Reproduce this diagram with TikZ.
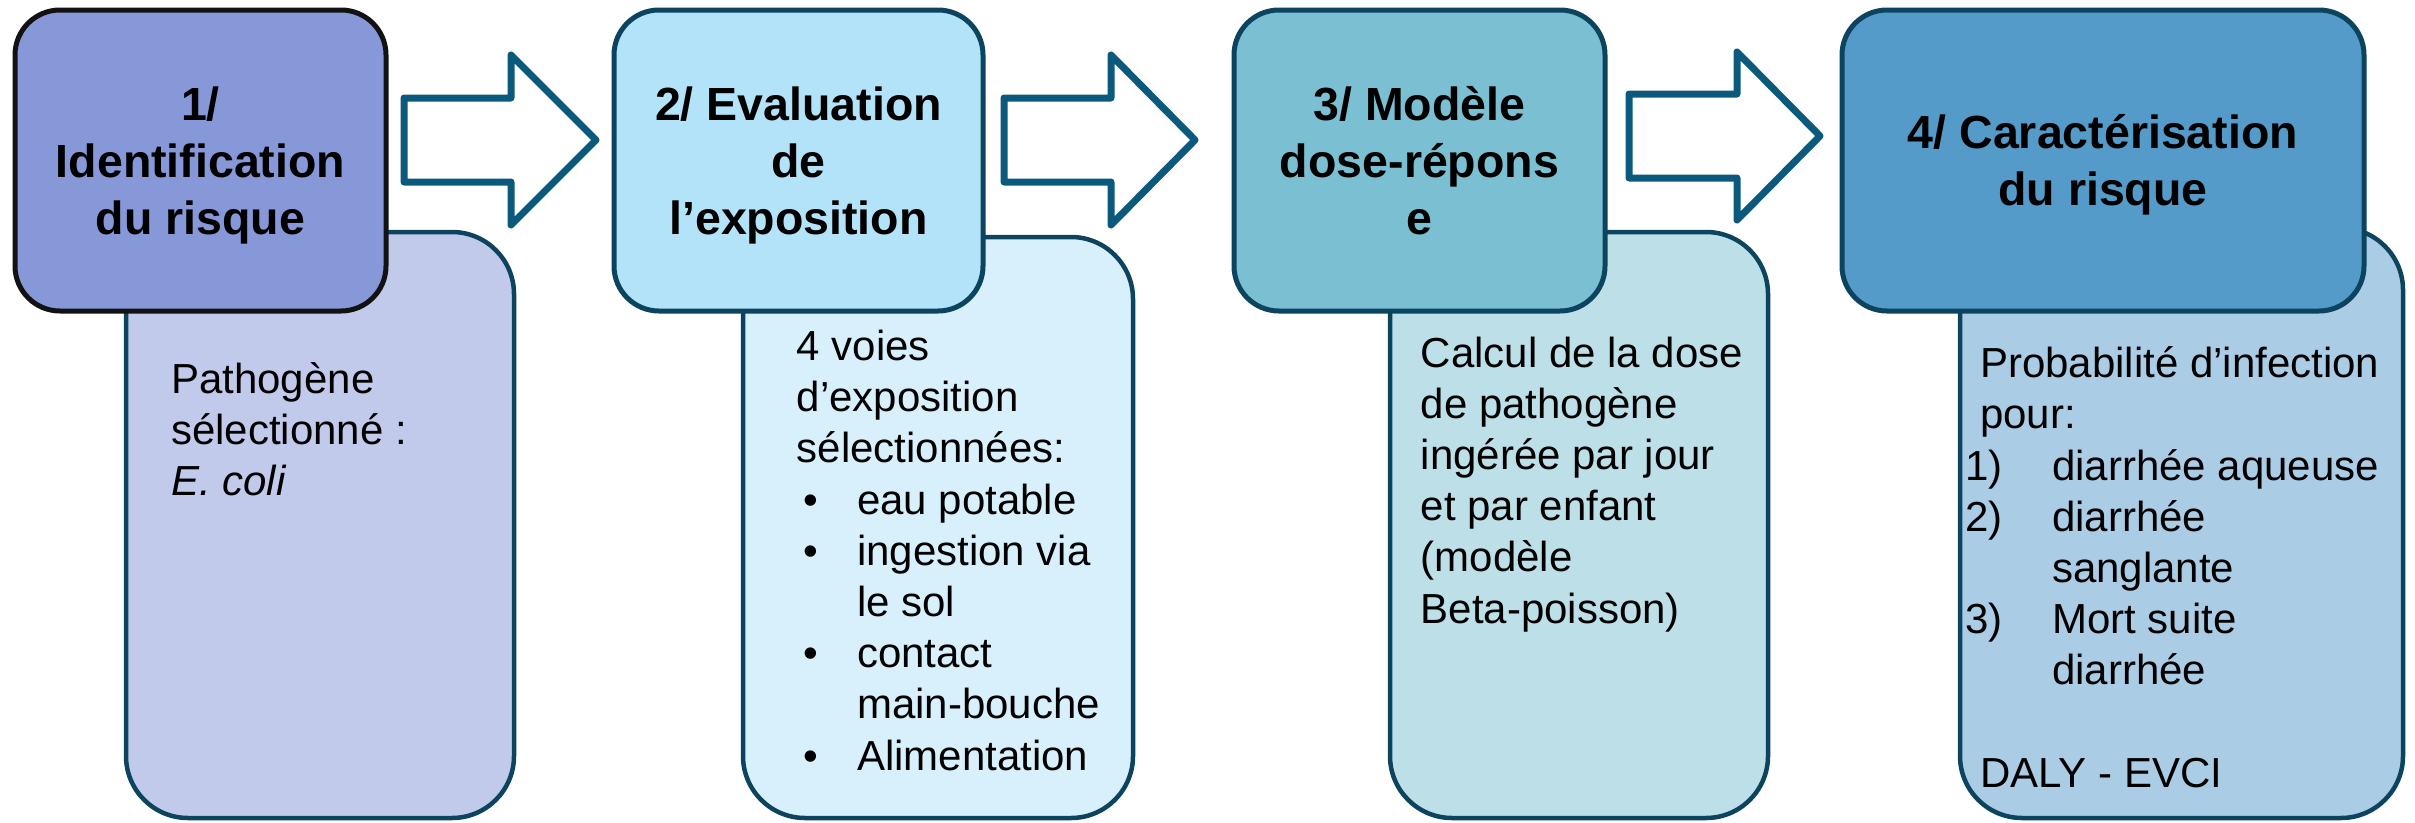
\documentclass[tikz,border=0pt]{standalone}
\usepackage{fontspec}
\setmainfont{Liberation Sans}
\definecolor{bordc}{HTML}{0C4460}
\definecolor{arrc}{HTML}{0B5A7D}
\definecolor{hAfill}{HTML}{8798D8}
\definecolor{sAfill}{HTML}{C2CAEC}
\definecolor{hBfill}{HTML}{B3E3F8}
\definecolor{sBfill}{HTML}{D8F0FC}
\definecolor{hCfill}{HTML}{7ABFD2}
\definecolor{sCfill}{HTML}{BCDFE8}
\definecolor{hDfill}{HTML}{559BC9}
\definecolor{sDfill}{HTML}{AACCE5}
\begin{document}
\begin{tikzpicture}[x=1pt,y=-1pt,
  hdr/.style={draw=bordc, line width=5pt, rounded corners=45pt, rectangle, inner sep=0pt, minimum height=301pt},
  subbox/.style={draw=bordc, line width=4.5pt, rounded corners=62pt, rectangle, inner sep=0pt},
  htxt/.style={anchor=base, inner sep=0pt, font=\fontsize{46.5}{57}\selectfont\bfseries},
  btxt/.style={anchor=base west, inner sep=0pt, font=\fontsize{42}{51.2}\selectfont},
  blockarrow/.style={draw=arrc, fill=white, line width=7pt, line join=round}]
\useasboundingbox (0,0) rectangle (2415,822);

% sub boxes (behind headers)
\node[subbox, fill=sAfill, minimum width=388pt, minimum height=586pt] (s1) at (320,525) {};
\node[subbox, fill=sBfill, minimum width=390pt, minimum height=581pt] (s2) at (938,527.5) {};
\node[subbox, fill=sCfill, minimum width=378pt, minimum height=586pt] (s3) at (1579,525) {};
\node[subbox, fill=sDfill, minimum width=443pt, minimum height=590pt] (s4) at (2181.5,523) {};

% header boxes
\node[hdr, draw=black!93, fill=hAfill, minimum width=371pt] (h1) at (200.5,160.5) {};
\node[hdr, fill=hBfill, minimum width=369pt] (h2) at (798.5,160.5) {};
\node[hdr, fill=hCfill, minimum width=371pt] (h3) at (1419.5,160.5) {};
\node[hdr, fill=hDfill, minimum width=522pt] (h4) at (2103,160.5) {};

% block arrows
\draw[blockarrow] (404,98) -- (511,98) -- (511,55) -- (596,140) -- (511,225) -- (511,182) -- (404,182) -- cycle;
\draw[blockarrow] (1004,98) -- (1111,98) -- (1111,55) -- (1195,140) -- (1111,225) -- (1111,182) -- (1004,182) -- cycle;
\draw[blockarrow] (1629,94) -- (1737,94) -- (1737,52) -- (1820,136) -- (1737,220) -- (1737,178) -- (1629,178) -- cycle;

% header texts
\node[htxt] (t1) at (200.5,120.7) {\parbox[t]{360pt}{\centering 1/\\Identification\\du risque}};
\node[htxt] (t2) at (798.5,120.7) {\parbox[t]{360pt}{\centering 2/ Evaluation\\de\\l’exposition}};
\node[htxt] (t3) at (1419.5,120.7) {\parbox[t]{360pt}{\centering 3/ Modèle\\dose-répons\\e}};
\node[htxt] (t4) at (2103,148) {\parbox[t]{500pt}{\centering 4/ Caractérisation\\du risque}};

% body texts
\node[btxt] (b1) at (171,393) {\parbox[t]{330pt}{\raggedright Pathogène\\sélectionné :\\\textit{E. coli}}};
\node[btxt] (b2) at (796.5,360.5) {\parbox[t]{340pt}{\raggedright
4 voies\\
d’exposition\\
sélectionnées:\\
\makebox[60.5pt][l]{\hspace*{6.5pt}•}eau potable\\
\makebox[60.5pt][l]{\hspace*{6.5pt}•}ingestion via\\
\makebox[60.5pt][l]{}le sol\\
\makebox[60.5pt][l]{\hspace*{6.5pt}•}contact\\
\makebox[60.5pt][l]{}main-bouche\\
\makebox[60.5pt][l]{\hspace*{6.5pt}•}Alimentation}};
\node[btxt] (b3) at (1420.6,367) {\parbox[t]{340pt}{\raggedright Calcul de la dose\\de pathogène\\ingérée par jour\\et par enfant\\(modèle\\Beta-poisson)}};
\node[btxt] (b4) at (1965,377.6) {\parbox[t]{440pt}{\raggedright
\hspace*{15pt}Probabilité d’infection\\
\hspace*{15pt}pour:\\
\makebox[87pt][l]{1)}diarrhée aqueuse\\
\makebox[87pt][l]{2)}diarrhée\\
\makebox[87pt][l]{}sanglante\\
\makebox[87pt][l]{3)}Mort suite\\
\makebox[87pt][l]{}diarrhée\\
\mbox{}\\
\hspace*{15pt}DALY - EVCI}};
\end{tikzpicture}
\end{document}
